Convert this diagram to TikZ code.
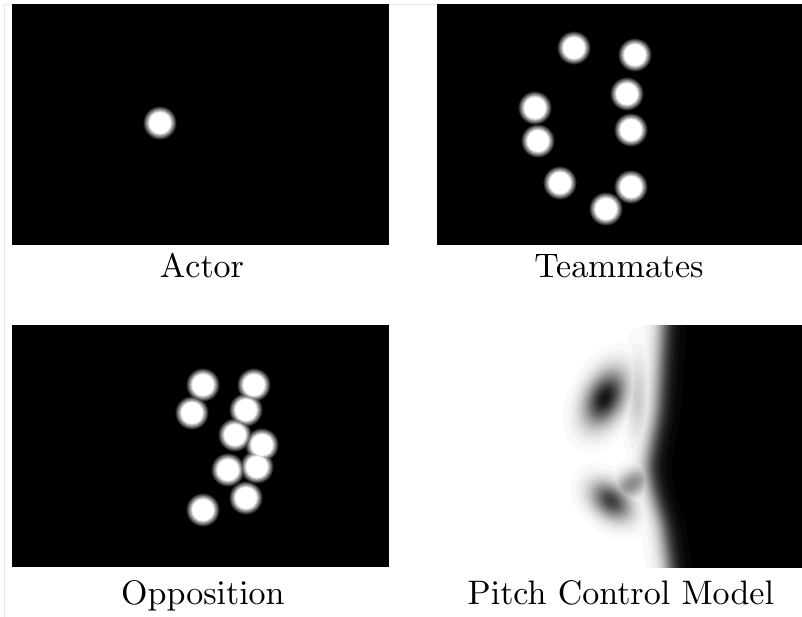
\documentclass[tikz,border=0pt]{standalone}
\usepackage{tikz}

% caption face: Computer Modern at its 10pt design, enlarged
\font\capfont=cmr10 at 34pt

% one blurred dark blob of the pitch-control map, drawn at the current level \lev
% #1,#2 centre, #3,#4 spread along the two axes, #5 tilt, #6 peak darkness
\newcommand\pcblob[6]{%
  \pgfmathsetmacro\pcr{#6/\lev}%
  \ifdim\pcr pt>1pt
    \pgfmathsetmacro\pck{sqrt(2*ln(\pcr))}%
    \fill[black!\dk!white, rotate around={#5:(#1,#2)}]
      (#1,#2) ellipse[x radius=#3*\pck pt, y radius=#4*\pck pt];
  \fi}

\begin{document}
\begin{tikzpicture}[x=1pt,y=-1pt,
  panel/.style={fill=black},
  lbl/.style={anchor=base,font=\capfont,inner sep=0pt},
  frameline/.style={draw=black!9,line width=0.8pt}]
\useasboundingbox (0,0) rectangle (802,617);
\fill[white] (0,0) rectangle (802,617);
\draw[frameline] (4,617) -- (4,4) -- (802,4);

% three black maps
\fill[panel] (12,4) rectangle (389,245);
\fill[panel] (437,4) rectangle (802,245);
\fill[panel] (12,325) rectangle (389,567);

% blurred white player dots, drawn level by level so overlaps stay bright
\foreach \i in {1,...,20}{
  \pgfmathsetmacro\rr{16.8-0.33*(\i-1)}
  \pgfmathtruncatemacro\ww{5*\i}
  \foreach \p in {(160,123),
      (574,48),(635,55),(627,94),(535,108),(631,130),(538,141),(560,183),(631,187),(606,209),
      (203,385),(254,385),(192,413),(246,410),(235,435),(262,445),(228,470),(257,467),(246,498),(203,510)}{
    \fill[white!\ww!black] \p circle[radius=\rr pt];
  }
}

% pitch control surface: soft black region plus two dark blobs
\begin{scope}
  \clip (437,325) rectangle (802,567);
  \foreach \i in {1,...,40}{
    \pgfmathsetmacro\lev{(\i-0.5)/40}
    \pgfmathsetmacro\dk{100*\i/40}
    \pgfmathsetmacro\off{9*ln(\lev/(1-\lev))/1.7}
    \fill[black!\dk!white] plot[smooth] coordinates
      {(664+\off,318) (658+\off,410) (649+\off,470) (663+\off,527) (670+\off,575)}
      -- (810,575) -- (810,318) -- cycle;
    \pcblob{638}{398}{8}{30}{0}{0.2}
    \pcblob{605}{398}{20}{12.5}{63}{0.92}
    \pcblob{611}{501}{16}{11}{-40}{0.75}
    \pcblob{632}{484}{16}{9}{35}{0.45}
  }
\end{scope}

% captions
\node[lbl] (actor) at (202,278) {Actor};
\node[lbl] (team) at (619,278) {Teammates};
\node[lbl] (opp) at (203,604) {Opposition};
\node[lbl] (pcm) at (621,604) {Pitch Control Model};
\end{tikzpicture}
\end{document}
